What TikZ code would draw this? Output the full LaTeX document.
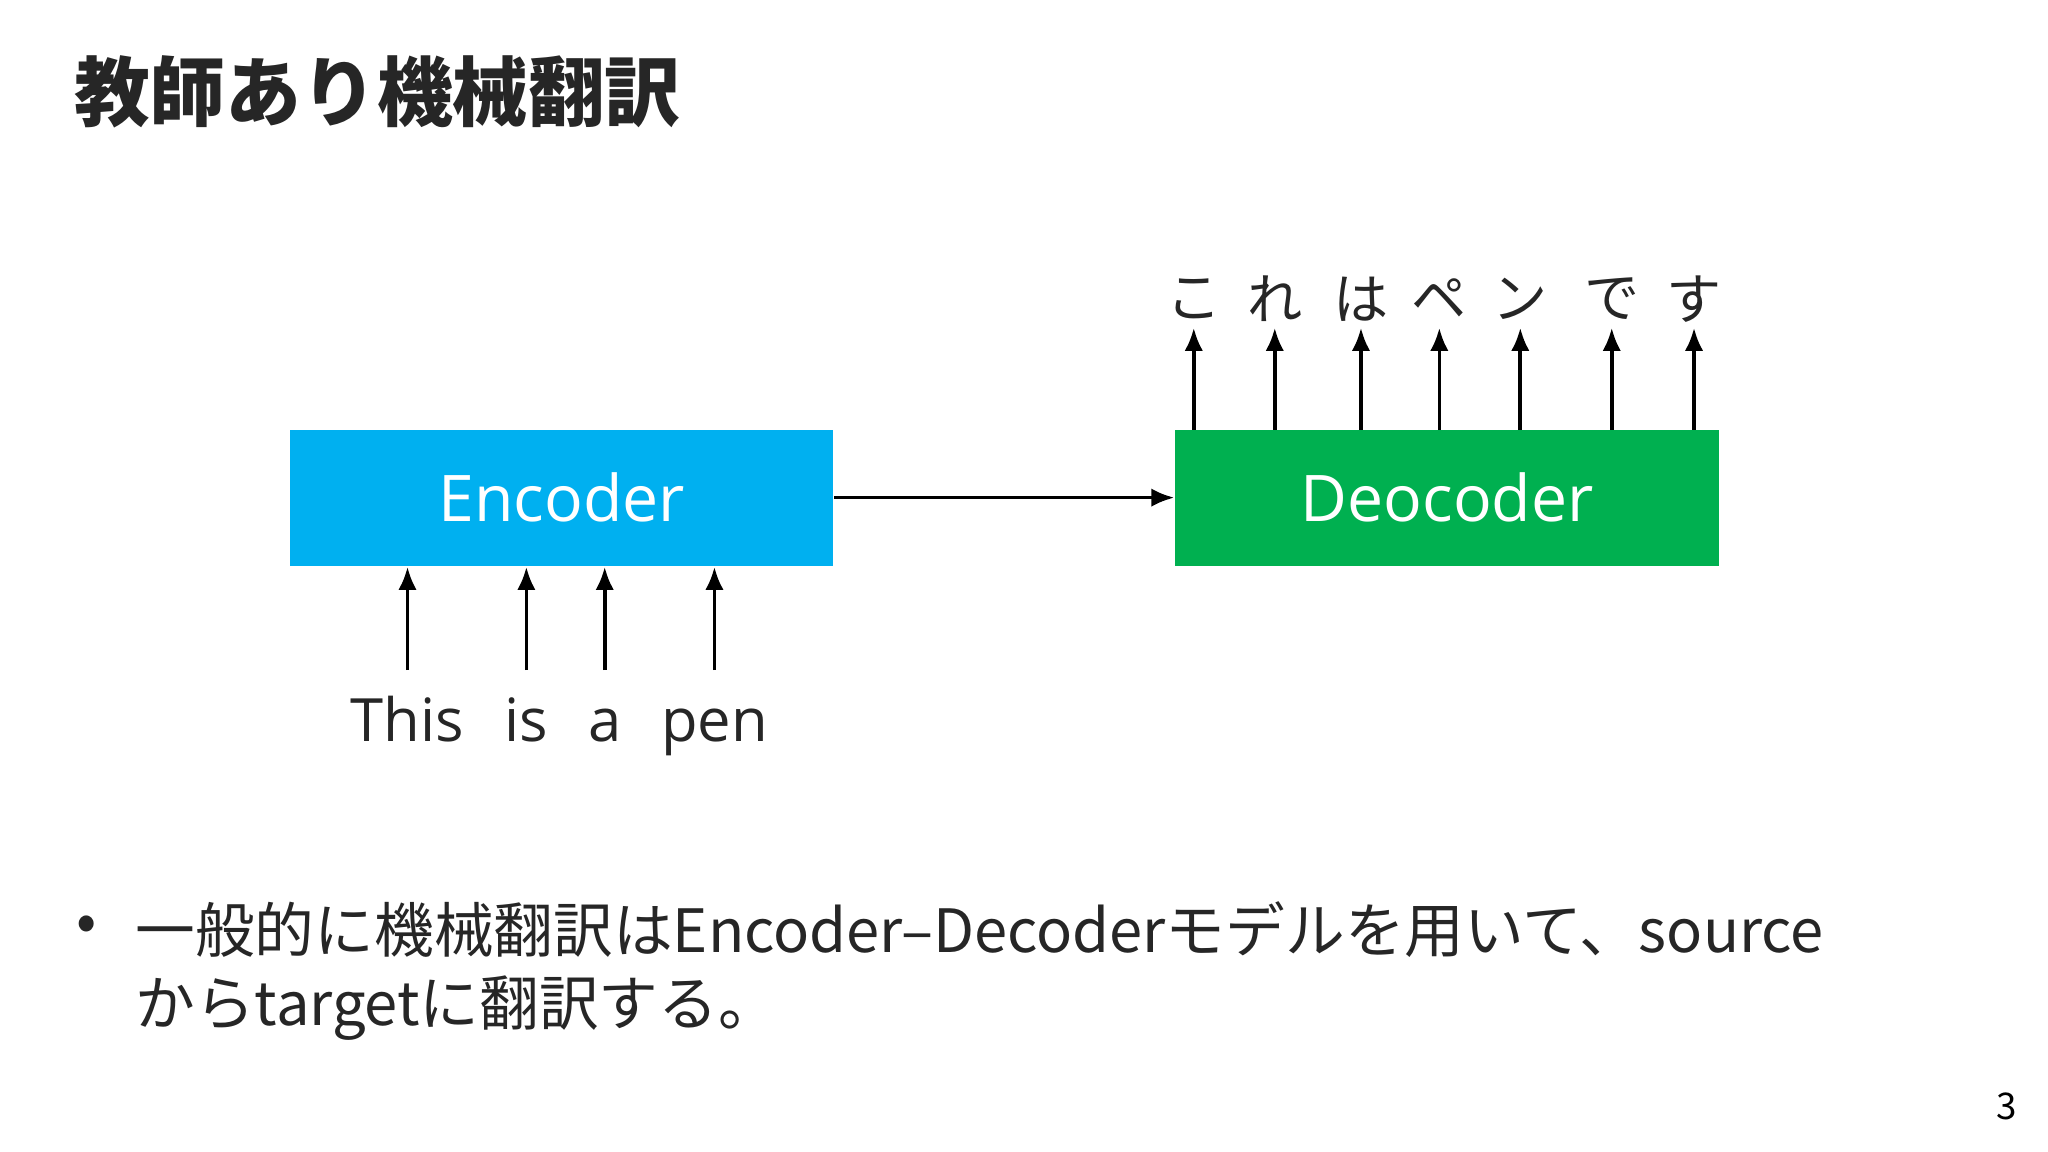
\documentclass[tikz,border=0pt]{standalone}
\usepackage{fontspec}
\setmainfont{Noto Sans CJK JP}
\newfontfamily\latinf{Open Sans}
\usetikzlibrary{arrows.meta}
\definecolor{encc}{RGB}{0,176,240}
\definecolor{decc}{RGB}{0,176,80}
\definecolor{txt}{RGB}{38,38,38}
\begin{document}
\begin{tikzpicture}[x=0.01cm,y=-0.01cm,
  blk/.style={minimum width=4.16cm,minimum height=1.04cm,inner sep=0,text=white,font=\latinf\fontsize{14}{16}\selectfont},
  arr/.style={-{Latex[length=5pt,width=4pt]},line width=0.8pt,black},
  word/.style={text=txt,font=\latinf\fontsize{13}{15}\selectfont,inner sep=0},
  jword/.style={text=txt,font=\fontsize{12}{14}\selectfont,inner sep=0}]
\useasboundingbox[fill=white] (0,0) rectangle (1568,882);
\node[anchor=west,font=\bfseries\fontsize{16.5}{18}\selectfont,text=txt,inner sep=0] (title) at (56,70) {教師あり機械翻訳};
\node[blk,fill=encc] (enc) at (430,381) {Encoder};
\node[blk,fill=decc] (dec) at (1108,381) {Deocoder};
\draw[arr] (enc.east) -- (dec.west);
\foreach \x/\w [count=\i] in {312/This,403/is,463/a,547/pen}{
  \node[word,anchor=base] (w\i) at (\x,568) {\w};
  \coordinate (s\i) at (\x,513);
  \coordinate (t\i) at (\x,434);
  \draw[arr] (s\i) -- (t\i);
}
\foreach \x/\w [count=\i] in {914/こ,976/れ,1042/は,1102/ペ,1164/ン,1234/で,1297/す}{
  \node[jword] (j\i) at (\x,229) {\w};
  \coordinate (b\i) at (\x,329);
  \coordinate (e\i) at (\x,251);
  \draw[arr] (b\i) -- (e\i);
}
\node[text=txt,font=\fontsize{13}{15}\selectfont,inner sep=0] (bul) at (66,711) {•};
\node[anchor=west,text=txt,font=\fontsize{13}{15}\selectfont,inner sep=0] (l1) at (103,712) {一般的に機械翻訳はEncoder–Decoderモデルを用いて、source};
\node[anchor=west,text=txt,font=\fontsize{13}{15}\selectfont,inner sep=0] (l2) at (103,772) {からtargetに翻訳する。};
\node[text=black,font=\fontsize{8}{10}\selectfont,inner sep=0] (pg) at (1536,847) {3};
\end{tikzpicture}
\end{document}
